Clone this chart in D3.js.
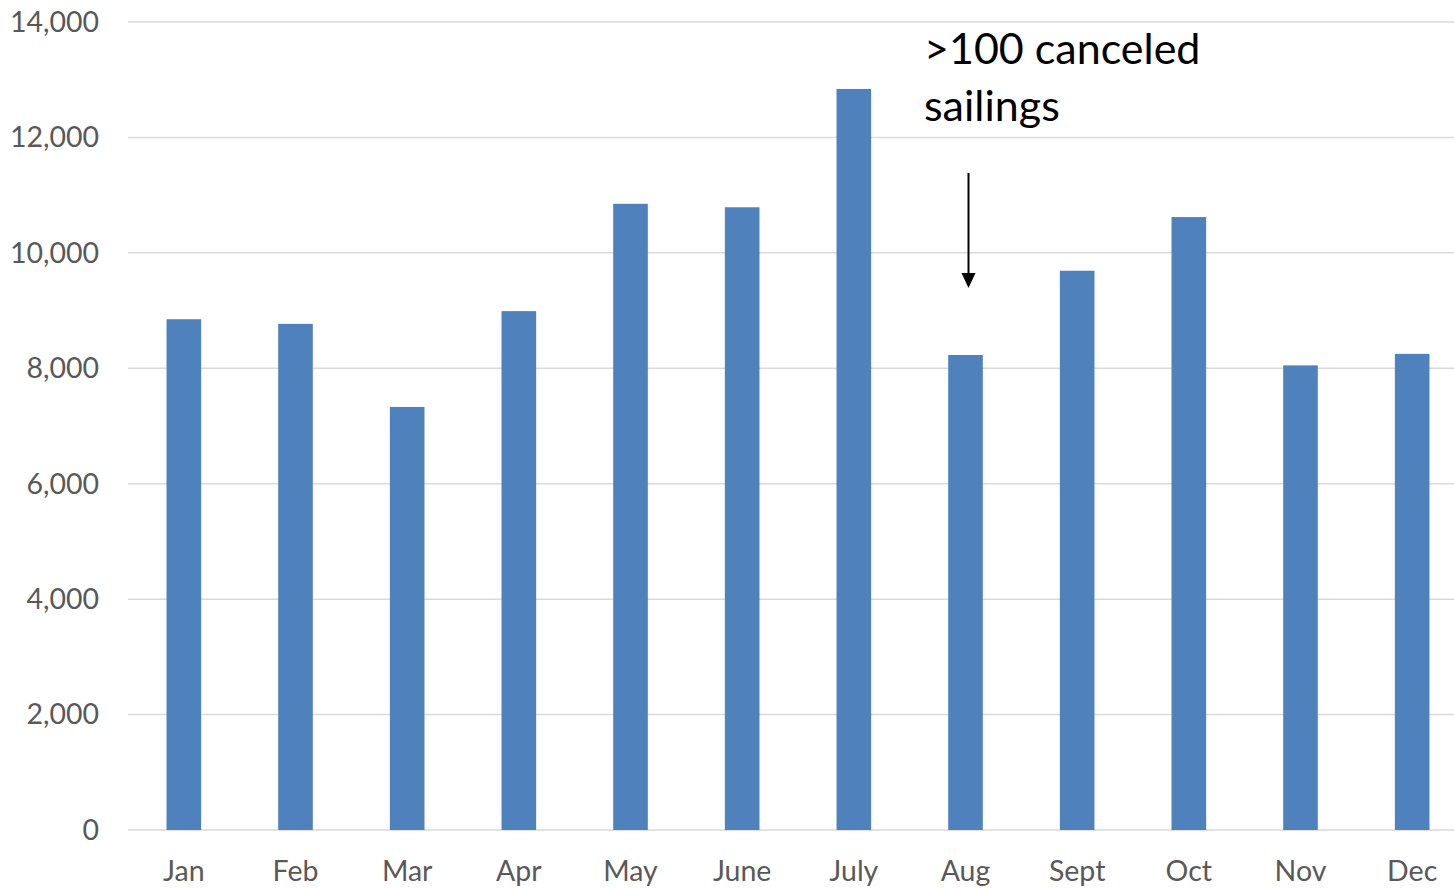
<!DOCTYPE html>
<html lang="en">
<head>
    <meta charset="UTF-8" />
    <title>Monthly sailings</title>
    <script src="https://d3js.org/d3.v7.min.js"></script>
    <style>
        body { margin: 0; background: #fff; }
        svg { display: block; font-family: Lato, "Open Sans", sans-serif; }
        .axis text { fill: #595959; }
        .grid line { stroke: #d9d9d9; stroke-width: 1.5px; }
    </style>
</head>
<body>
    <svg id="chart" width="1454" height="888"></svg>
    <script>
        const months = ["Jan", "Feb", "Mar", "Apr", "May", "June", "July", "Aug", "Sept", "Oct", "Nov", "Dec"];
        const values = [8850, 8770, 7330, 8990, 10850, 10790, 12840, 8230, 9690, 10620, 8050, 8250];
        const yTicks = [0, 2000, 4000, 6000, 8000, 10000, 12000, 14000];
        const noteLines = [">100 canceled", "sailings"];
        const noteMonth = "Aug";

        const svg = d3.select("#chart");
        const width = +svg.attr("width");
        const height = +svg.attr("height");

        const plotLeft = 128;
        const plotRight = 1468;
        const plotTop = 22;
        const plotBottom = 830;

        const x = d3.scaleBand()
            .domain(months)
            .range([plotLeft, plotRight])
            .paddingInner(0.69)
            .paddingOuter(0.345);

        const y = d3.scaleLinear()
            .domain([0, 14000])
            .range([plotBottom, plotTop]);

        // gridlines
        svg.append("g")
            .attr("class", "grid")
            .selectAll("line")
            .data(yTicks)
            .join("line")
            .attr("x1", plotLeft)
            .attr("x2", width)
            .attr("y1", d => y(d))
            .attr("y2", d => y(d));

        // y axis labels
        const yAxis = svg.append("g")
            .attr("class", "axis")
            .attr("transform", `translate(${plotLeft}, 0)`)
            .call(d3.axisLeft(y)
                .tickValues(yTicks)
                .tickFormat(d3.format(","))
                .tickSize(0)
                .tickPadding(29));
        yAxis.attr("font-family", "Lato, sans-serif").attr("font-size", 28.5);
        yAxis.select(".domain").remove();
        yAxis.selectAll("text").attr("dy", "0.33em");

        // bars
        svg.append("g")
            .selectAll("rect")
            .data(values)
            .join("rect")
            .attr("x", (d, i) => x(months[i]))
            .attr("width", x.bandwidth())
            .attr("y", d => y(d))
            .attr("height", d => y(0) - y(d))
            .attr("fill", "#4f81bd");

        // x axis labels
        const xAxis = svg.append("g")
            .attr("class", "axis")
            .attr("transform", `translate(0, ${plotBottom})`)
            .call(d3.axisBottom(x).tickSize(0).tickPadding(31));
        xAxis.attr("font-family", "Lato, sans-serif").attr("font-size", 28.5);
        xAxis.select(".domain").remove();

        // annotation
        const ax = x(noteMonth) + x.bandwidth() / 2 + 3;
        svg.append("line")
            .attr("x1", ax).attr("x2", ax)
            .attr("y1", 173).attr("y2", 276)
            .attr("stroke", "#000")
            .attr("stroke-width", 2);
        svg.append("path")
            .attr("d", `M${ax - 7},273 L${ax + 7},273 L${ax},288 Z`)
            .attr("fill", "#000");

        svg.append("text")
            .attr("x", 924)
            .attr("y", 64)
            .attr("font-size", 43)
            .attr("fill", "#000")
            .selectAll("tspan")
            .data(noteLines)
            .join("tspan")
            .attr("x", 924)
            .attr("dy", (d, i) => i === 0 ? 0 : 57)
            .text(d => d);
    </script>
</body>
</html>
